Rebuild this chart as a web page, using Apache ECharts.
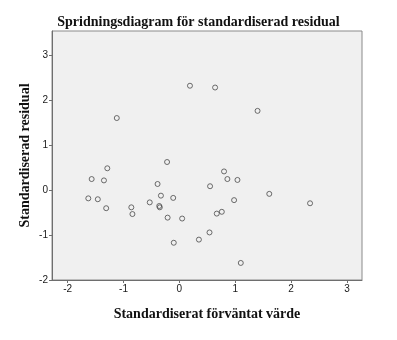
<!DOCTYPE html>
<html>
<head>
<meta charset="utf-8">
<script src="https://cdn.jsdelivr.net/npm/echarts@6/dist/echarts.min.js"></script>
<style>
  html, body { margin: 0; padding: 0; background: #ffffff; }
  #chart { width: 397px; height: 340px; }
</style>
</head>
<body>
<div id="chart"></div>
<script>
// Standardised predicted values (x) and standardised residuals (y)
const predicted = [
  -1.12, -0.22, -1.29, -1.57, -1.35, 0.55, -0.39, -1.63, -1.46, -0.33,
  -0.11, -0.53, -0.36, -0.35, -1.31, -0.86, -0.84, 0.67, -0.21, 0.05,
  0.54, 0.35, -0.10, 0.19, 0.64, 1.40, 0.80, 0.86, 1.04, 1.61,
  0.98, 2.34, 0.76, 1.10
];
const residuals = [
  1.61, 0.63, 0.49, 0.25, 0.22, 0.09, 0.14, -0.18, -0.20, -0.12,
  -0.17, -0.27, -0.35, -0.38, -0.40, -0.38, -0.53, -0.52, -0.61, -0.63,
  -0.94, -1.10, -1.17, 2.33, 2.29, 1.77, 0.42, 0.25, 0.23, -0.08,
  -0.22, -0.29, -0.48, -1.62
];
const xTicks = [-2, -1, 0, 1, 2, 3];
const yTicks = [-2, -1, 0, 1, 2, 3];

const titleText = 'Spridningsdiagram för standardiserad residual';
const xName = 'Standardiserat förväntat värde';
const yName = 'Standardiserad residual';

const points = predicted.map((x, i) => [x, residuals[i]]);

const chart = echarts.init(document.getElementById('chart'), null, { renderer: 'canvas' });

const tickLabel = { fontFamily: 'Liberation Sans', fontSize: 10, color: '#1a1a1a' };
const axisLine = { show: true, onZero: false, lineStyle: { color: '#6e6e6e', width: 1 } };
const nameStyle = { fontFamily: 'Liberation Serif', fontWeight: 'bold', fontSize: 14, color: '#111111' };

chart.setOption({
  animation: false,
  backgroundColor: '#ffffff',
  title: {
    text: titleText,
    left: 'center',
    top: 10,
    textStyle: { fontFamily: 'Liberation Serif', fontWeight: 'bold', fontSize: 14, color: '#111111' }
  },
  grid: {
    left: 52, right: 35, top: 31, bottom: 60,
    show: true,
    backgroundColor: '#f0f0f0',
    borderColor: '#8a8a8a',
    borderWidth: 1
  },
  xAxis: {
    type: 'value',
    min: -2.28, max: 3.27,
    name: xName,
    nameLocation: 'middle',
    nameGap: 27,
    nameTextStyle: nameStyle,
    axisLine: axisLine,
    axisTick: { show: true, length: 3, customValues: xTicks, lineStyle: { color: '#6e6e6e' } },
    axisLabel: Object.assign({ customValues: xTicks, margin: 4 }, tickLabel),
    splitLine: { show: false }
  },
  yAxis: {
    type: 'value',
    min: -2, max: 3.55,
    name: yName,
    nameLocation: 'middle',
    nameGap: 20,
    nameMoveOverlap: false,
    nameTextStyle: nameStyle,
    axisLine: axisLine,
    axisTick: { show: true, length: 3, customValues: yTicks, lineStyle: { color: '#6e6e6e' } },
    axisLabel: Object.assign({ customValues: yTicks, margin: 4 }, tickLabel),
    splitLine: { show: false }
  },
  series: [{
    type: 'scatter',
    data: points,
    symbol: 'circle',
    symbolSize: 5,
    itemStyle: { color: 'rgba(0,0,0,0)', borderColor: '#4a4a4a', borderWidth: 1 }
  }]
});
</script>
</body>
</html>
